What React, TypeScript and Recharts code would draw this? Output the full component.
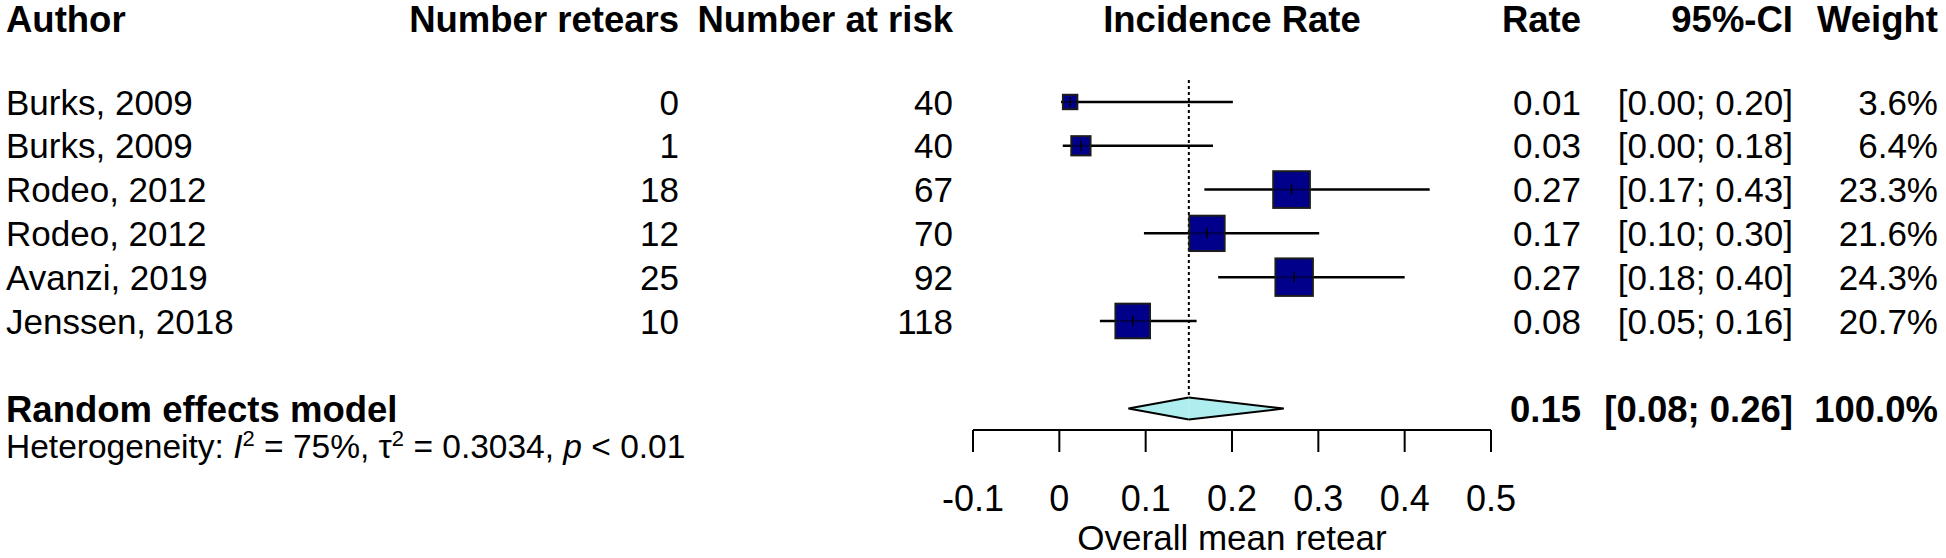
import React from "react";
import {
  ScatterChart,
  Scatter,
  XAxis,
  YAxis,
  ErrorBar,
  ReferenceLine,
  ReferenceArea,
} from "recharts";

const authors = [
  "Burks, 2009",
  "Burks, 2009",
  "Rodeo, 2012",
  "Rodeo, 2012",
  "Avanzi, 2019",
  "Jenssen, 2018",
];
const retears = [0, 1, 18, 12, 25, 10];
const atRisk = [40, 40, 67, 70, 92, 118];
const rates = [0.0125, 0.025, 0.269, 0.171, 0.272, 0.085];
const ciLower = [0.002, 0.004, 0.168, 0.098, 0.184, 0.047];
const ciUpper = [0.201, 0.178, 0.429, 0.301, 0.4, 0.159];
const weights = [3.6, 6.4, 23.3, 21.6, 24.3, 20.7];
const rateLabels = ["0.01", "0.03", "0.27", "0.17", "0.27", "0.08"];
const ciLabels = [
  "[0.00; 0.20]",
  "[0.00; 0.18]",
  "[0.17; 0.43]",
  "[0.10; 0.30]",
  "[0.18; 0.40]",
  "[0.05; 0.16]",
];
const weightLabels = ["3.6%", "6.4%", "23.3%", "21.6%", "24.3%", "20.7%"];

const pooledRate = 0.15;
const pooledLower = 0.08;
const pooledUpper = 0.26;
const pooledLabels = ["0.15", "[0.08; 0.26]", "100.0%"];

const headers = [
  "Author",
  "Number retears",
  "Number at risk",
  "Incidence Rate",
  "Rate",
  "95%-CI",
  "Weight",
];
const xTicks = [-0.1, 0, 0.1, 0.2, 0.3, 0.4, 0.5];

// row positions on the (reversed) y scale
const HEADER_ROW = 0.1;
const studyRows = [2, 3, 4, 5, 6, 7];
const SUMMARY_ROW = 9;
const DIAMOND_HALF = 0.25;

const FONT = "Arial, 'Liberation Sans', Helvetica, sans-serif";
const F = 35;
const FB = 36.5;
const FH = 33.5;

// column anchors (px)
const COL = {
  author: 6,
  retears: 679,
  atRisk: 953,
  plotMid: 1232,
  rate: 1581,
  ci: 1793,
  weight: 1938,
};

const studies = authors.map((a, i) => ({
  x: rates[i],
  y: studyRows[i],
  err: [rates[i] - ciLower[i], ciUpper[i] - rates[i]],
  weight: weights[i],
}));

function RowTick(props: any) {
  const { y, payload } = props;
  const v = payload.value;
  const txt = (x: number, s: string | number, anchor = "end", size = F) => (
    <text x={x} y={y + size * 0.36} textAnchor={anchor} fontSize={size} fill="#000">
      {s}
    </text>
  );

  if (v === HEADER_ROW) {
    return (
      <g fontWeight="bold" fontFamily={FONT}>
        {txt(COL.author, headers[0], "start", FB)}
        {txt(COL.retears, headers[1], "end", FB)}
        {txt(COL.atRisk, headers[2], "end", FB)}
        {txt(COL.plotMid, headers[3], "middle", FB)}
        {txt(COL.rate, headers[4], "end", FB)}
        {txt(COL.ci, headers[5], "end", FB)}
        {txt(COL.weight, headers[6], "end", FB)}
      </g>
    );
  }

  if (v === SUMMARY_ROW) {
    const hy = y + 37 + FH * 0.36;
    return (
      <g fontFamily={FONT}>
        <g fontWeight="bold">
          {txt(COL.author, "Random effects model", "start", FB)}
          {txt(COL.rate, pooledLabels[0], "end", FB)}
          {txt(COL.ci, pooledLabels[1], "end", FB)}
          {txt(COL.weight, pooledLabels[2], "end", FB)}
        </g>
        <text x={COL.author} y={hy} fontSize={FH} fill="#000">
          Heterogeneity: <tspan fontStyle="italic">I</tspan>
          <tspan dy={-12} fontSize={22}>2</tspan>
          <tspan dy={12}> = 75%, τ</tspan>
          <tspan dy={-12} fontSize={22}>2</tspan>
          <tspan dy={12}> = 0.3034, </tspan>
          <tspan fontStyle="italic">p</tspan>
          <tspan> &lt; 0.01</tspan>
        </text>
      </g>
    );
  }

  const i = studyRows.indexOf(v);
  if (i < 0) return null;
  return (
    <g fontFamily={FONT}>
      {txt(COL.author, authors[i], "start")}
      {txt(COL.retears, retears[i])}
      {txt(COL.atRisk, atRisk[i])}
      {txt(COL.rate, rateLabels[i])}
      {txt(COL.ci, ciLabels[i])}
      {txt(COL.weight, weightLabels[i])}
    </g>
  );
}

function XTick(props: any) {
  const { x, y, payload } = props;
  return (
    <text
      x={x}
      y={y + 59}
      textAnchor="middle"
      fontSize={36}
      fontFamily={FONT}
      fill="#000"
    >
      {payload.value}
    </text>
  );
}

function StudySquare(props: any) {
  const { cx, cy, payload } = props;
  const s = 7.6 * Math.sqrt(payload.weight);
  return (
    <g>
      <rect
        x={cx - s / 2}
        y={cy - s / 2}
        width={s}
        height={s}
        fill="#00008B"
        stroke="#1c1c1c"
        strokeWidth={2}
      />
      <line x1={cx - s / 2} x2={cx + s / 2} y1={cy} y2={cy} stroke="#000" strokeOpacity={0.45} strokeWidth={2} />
      <line x1={cx} x2={cx} y1={cy - 5} y2={cy + 5} stroke="#000" strokeWidth={1.5} />
    </g>
  );
}

function DiamondLeft(props: any) {
  const { x, y, width: w, height: h } = props;
  return (
    <g>
      <polygon points={`${x},${y + h / 2} ${x + w},${y} ${x + w},${y + h}`} fill="#AFEEEE" />
      <polyline
        points={`${x + w},${y} ${x},${y + h / 2} ${x + w},${y + h}`}
        fill="none"
        stroke="#000"
        strokeWidth={2}
      />
    </g>
  );
}

function DiamondRight(props: any) {
  const { x, y, width: w, height: h } = props;
  return (
    <g>
      <polygon points={`${x},${y} ${x + w},${y + h / 2} ${x},${y + h}`} fill="#AFEEEE" />
      <polyline
        points={`${x},${y} ${x + w},${y + h / 2} ${x},${y + h}`}
        fill="none"
        stroke="#000"
        strokeWidth={2}
      />
    </g>
  );
}

export default function App() {
  return (
    <div style={{ position: "absolute", left: 0, top: 0, background: "#fff" }}>
      <ScatterChart
        width={1946}
        height={558}
        margin={{ top: 14.4, right: 455, bottom: 0, left: 0 }}
      >
        <XAxis
          type="number"
          dataKey="x"
          domain={[-0.1, 0.5]}
          ticks={xTicks}
          interval={0}
          allowDataOverflow
          height={128}
          tickSize={22}
          tickMargin={0}
          axisLine={{ stroke: "#000", strokeWidth: 2 }}
          tickLine={{ stroke: "#000", strokeWidth: 2 }}
          tick={XTick}
          label={{
            value: "Overall mean retear",
            position: "insideBottom",
            offset: 8,
            fontSize: 35,
            fontFamily: FONT,
            fill: "#000",
          }}
        />
        <YAxis
          type="number"
          dataKey="y"
          domain={[0, 9.49]}
          reversed
          ticks={[HEADER_ROW, ...studyRows, SUMMARY_ROW]}
          interval={0}
          allowDataOverflow
          width={973}
          axisLine={false}
          tickLine={false}
          tick={RowTick}
        />
        <ReferenceLine
          segment={[
            { x: pooledRate, y: 1.5 },
            { x: pooledRate, y: SUMMARY_ROW - DIAMOND_HALF },
          ]}
          stroke="#000"
          strokeWidth={2}
          strokeDasharray="3 3"
          ifOverflow="visible"
        />
        <Scatter data={studies} shape={StudySquare} isAnimationActive={false}>
          <ErrorBar
            dataKey="err"
            direction="x"
            width={0}
            stroke="#000"
            strokeWidth={2.5}
            isAnimationActive={false}
          />
        </Scatter>
        <ReferenceArea
          x1={pooledLower}
          x2={pooledRate}
          y1={SUMMARY_ROW - DIAMOND_HALF}
          y2={SUMMARY_ROW + DIAMOND_HALF}
          shape={DiamondLeft}
          ifOverflow="visible"
        />
        <ReferenceArea
          x1={pooledRate}
          x2={pooledUpper}
          y1={SUMMARY_ROW - DIAMOND_HALF}
          y2={SUMMARY_ROW + DIAMOND_HALF}
          shape={DiamondRight}
          ifOverflow="visible"
        />
      </ScatterChart>
    </div>
  );
}
